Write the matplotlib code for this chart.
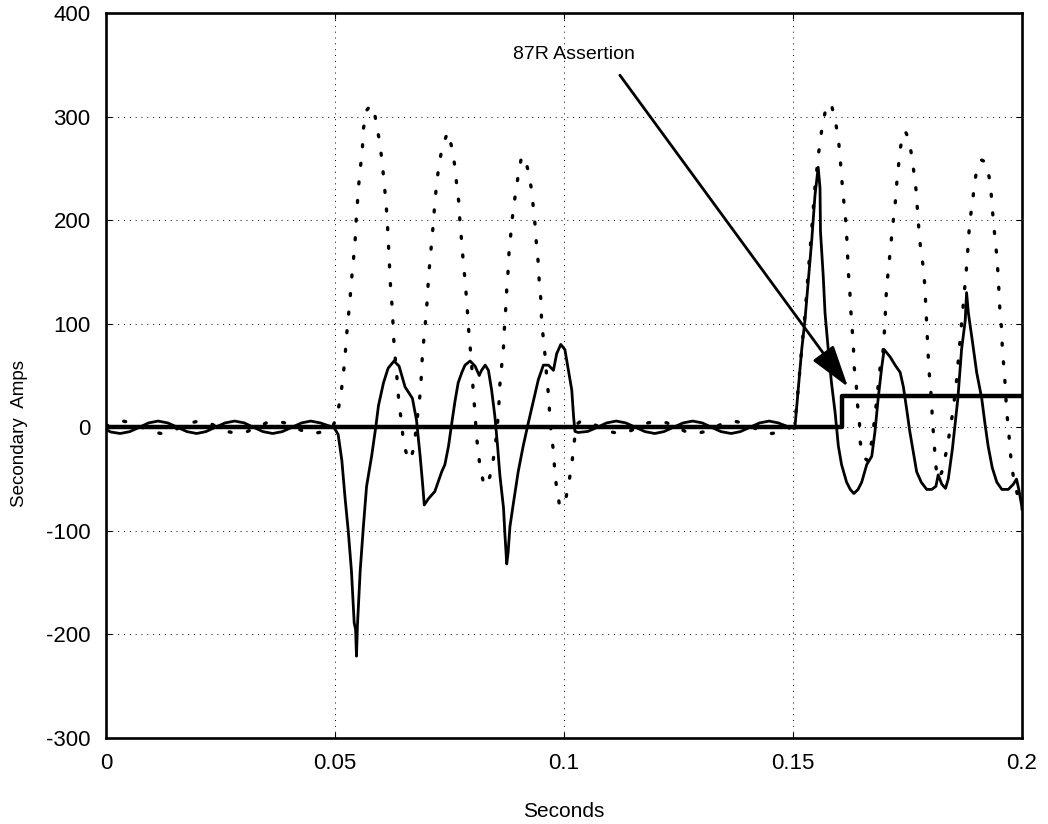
import matplotlib
matplotlib.use("Agg")
import matplotlib.pyplot as plt
import numpy as np

plt.rcParams['font.family'] = ['Liberation Sans', 'DejaVu Sans']
plt.rcParams['axes.unicode_minus'] = False

# differential current (solid), time in ms
t_diff = [0.0, 1.0, 3.1, 5.2, 7.3, 9.3, 11.4, 13.5, 15.6, 17.7, 19.8, 21.8, 23.9, 26.0,
          28.1, 30.2, 32.2, 34.3, 36.4, 38.5, 40.6, 42.7, 44.7, 46.8, 48.9, 49.9,
          50.7, 51.5, 52.2, 52.9, 53.6, 54.2, 54.5, 54.7, 54.9, 55.5, 56.2, 56.9, 58.0,
          58.9, 59.5, 60.6, 61.6, 62.9, 64.0, 65.3, 66.9, 67.8, 68.6, 69.1, 69.5, 70.4,
          71.8, 73.3, 74.0, 74.8, 75.5, 76.2, 76.9, 77.7, 78.4, 79.5, 80.6, 81.5, 82.0,
          82.8, 83.5, 84.2, 84.9, 85.5, 86.0, 86.8, 87.1, 87.5, 87.8, 88.2, 88.9, 90.0,
          91.1, 92.2, 93.3, 94.4, 95.5, 96.6, 97.7, 98.4, 99.3, 100.2, 100.9, 101.7,
          102.1, 102.4, 103.1, 105.2, 107.3, 109.3, 111.4, 113.5, 115.6, 117.7, 119.8,
          121.8, 123.9, 126.0, 128.1, 130.2, 132.2, 134.3, 136.5, 138.5, 140.6, 142.7,
          144.8, 146.8, 148.9, 150.4, 151.2, 151.9, 152.6, 153.3, 154.1, 154.8, 155.5,
          155.9, 156.0, 156.6, 157.0, 157.7, 158.4, 159.2, 159.9, 160.6, 161.7, 162.5,
          163.3, 164.2, 165.0, 166.1, 167.2, 167.9, 168.6, 169.4, 169.9, 171.2, 172.3,
          173.4, 174.1, 174.8, 175.5, 176.3, 177.0, 178.0, 179.2, 180.3, 181.2, 181.7,
          182.5, 183.3, 183.9, 184.8, 185.4, 186.0, 186.8, 187.6, 187.9, 188.3, 189.2,
          190.1, 191.2, 191.9, 192.6, 193.5, 194.5, 195.6, 197.0, 198.1, 198.8, 199.3,
          199.9, 200.0]
i_diff = [-2, -4.5, -6, -4.2, 0, 4.2, 6, 4.2, 0, -4.2, -6, -4.2, 0, 4.2,
          6, 4.2, 0, -4.2, -6, -4.2, 0, 4.2, 6, 4.2, 1, -1,
          -7, -32, -68, -100, -139, -189, -195, -221, -192, -139, -96, -57, -28,
          0, 21, 43, 57, 64, 59, 39, 28, 7, -28, -53, -75, -69,
          -62, -43, -36, -18, 4, 25, 43, 53, 60, 64, 59, 50, 55,
          60, 55, 36, 11, -18, -46, -78, -103, -132, -121, -96, -75, -43,
          -18, 4, 25, 46, 60, 60, 55, 71, 80, 75, 57, 36,
          10, -4, -5, -4, 0, 4.2, 6, 4.2, 0, -4.2, -6,
          -4.2, 0, 4.2, 6, 4.2, 0, -4.2, -6, -4.2, 0, 4.2,
          6, 4.2, 0.5, -1, 39, 75, 103, 139, 181, 224, 251,
          231, 189, 146, 110, 75, 43, 14, -18, -36, -53, -60,
          -64, -60, -53, -36, -28, -4, 28, 59, 75, 68, 60,
          53, 39, 18, -4, -25, -43, -53, -60, -60, -57, -46,
          -55, -59, -50, -21, 4, 28, 75, 103, 130, 110, 82,
          53, 28, 4, -18, -39, -53, -60, -60, -55, -50, -60,
          -75, -79]

# restraint side current (dotted), time in ms
t_res = [0.0, 1.6, 3.7, 5.8, 7.9, 10.0, 12.0, 14.1, 16.2, 18.3, 20.4, 22.5, 24.5, 26.6,
         28.7, 30.8, 32.9, 35.0, 37.0, 39.1, 41.2, 43.3, 45.4, 47.5, 49.5,
         50.6, 51.3, 51.8, 52.2, 52.5, 52.9, 53.3, 53.6, 54.0, 54.4, 54.6, 54.9, 55.2,
         55.6, 56.0, 56.2, 56.9, 57.8, 58.4, 59.1, 59.8, 60.3, 60.7, 61.1, 61.4, 61.6,
         61.8, 62.0, 62.2, 62.6, 62.7, 63.0, 63.7, 64.0, 64.6, 64.9, 65.9, 66.5, 67.3,
         68.2, 68.7, 69.1, 69.5, 69.9, 70.2, 70.4, 70.8, 71.1, 71.5, 71.8, 72.2, 72.7,
         73.4, 74.6, 75.6, 76.2, 76.6, 77.1, 77.3, 77.7, 78.0, 78.4, 78.8, 79.3, 79.7,
         80.0, 80.2, 80.6, 80.8, 81.2, 81.7, 82.6, 83.8, 84.6, 85.1, 85.5, 85.8, 86.0,
         86.4, 86.8, 87.0, 87.3, 87.5, 87.8, 88.0, 88.4, 88.8, 89.3, 89.9, 90.6, 91.4,
         92.2, 92.9, 93.3, 93.7, 94.0, 94.4, 94.6, 95.0, 95.1, 95.5, 95.9, 96.2, 96.6,
         96.9, 97.2, 97.7, 98.0, 98.4, 99.1, 100.4, 101.2, 101.8, 102.3, 102.8, 103.7,
         105.8, 107.9, 110.0, 112.0, 114.1, 116.2, 118.3, 120.4, 122.5, 124.5, 126.6,
         128.7, 130.8, 132.9, 135.0, 137.0, 139.1, 141.2, 143.3, 145.4, 147.5, 149.5,
         150.4, 151.2, 151.9, 152.6, 153.3, 154.1, 154.8, 155.6, 156.3, 157.0, 157.7,
         158.3, 159.2, 159.9, 160.3, 160.6, 161.0, 161.4, 161.7, 161.9, 162.1, 162.4,
         162.6, 162.9, 163.2, 163.3, 163.8, 164.0, 164.5, 164.6, 165.2, 166.2, 167.2,
         167.9, 168.5, 169.0, 169.7, 170.1, 170.3, 170.6, 171.0, 171.4, 171.8, 172.3,
         172.6, 173.0, 173.4, 174.1, 174.5, 175.2, 175.9, 176.4, 176.9, 177.2, 177.5,
         177.9, 178.5, 178.8, 179.0, 179.2, 179.4, 179.6, 179.9, 180.3, 180.4, 180.8,
         181.0, 181.4, 181.8, 182.6, 183.4, 184.2, 185.0, 185.7, 186.3, 186.9, 187.5,
         188.0, 188.3, 188.6, 189.2, 189.6, 190.3, 191.2, 192.1, 193.0, 193.4, 193.7,
         194.1, 194.5, 194.8, 195.0, 195.2, 195.6, 195.7, 196.1, 196.4, 196.6, 197.0,
         197.4, 197.7, 198.3, 199.0, 200.0]
i_res = [1, 4.2, 6, 4.2, 0, -4.2, -6, -4.2, 0, 4.2, 6, 4.2, 0, -4.2,
         -6, -4.2, 0, 4.2, 6, 4.2, 0, -4.2, -6, -4.2, 0,
         14, 32, 50, 68, 87, 105, 124, 142, 160, 180, 198, 217, 235,
         253, 270, 288, 306, 311, 309, 292, 274, 256, 237, 219, 201, 183,
         165, 148, 130, 111, 93, 75, 39, 21, 4, -14, -30, -32, -18,
         18, 36, 71, 89, 109, 126, 144, 164, 180, 198, 217, 235, 253,
         270, 285, 269, 251, 233, 215, 196, 178, 160, 142, 120, 87, 69,
         50, 32, 14, -4, -21, -39, -57, -48, -30, -14, 4, 23, 41,
         60, 78, 96, 116, 133, 151, 169, 187, 205, 222, 240, 258, 262,
         247, 230, 212, 195, 176, 158, 140, 121, 103, 85, 68, 50, 32,
         12, -5, -23, -43, -59, -77, -69, -50, -32, -12, 3, 6,
         4.2, 0, -4.2, -6, -4.2, 0, 4.2, 6, 4.2, 0, -4.2,
         -6, -4.2, 0, 4.2, 6, 4.2, 0, -4.2, -6, -4.2, 0,
         4, 40, 76, 108, 148, 192, 232, 265, 288, 304, 311,
         313, 297, 279, 260, 242, 222, 206, 187, 167, 149, 132,
         114, 96, 78, 60, 43, 25, 7, -12, -28, -32, -14,
         11, 36, 57, 75, 103, 125, 142, 160, 178, 196, 215,
         233, 251, 269, 283, 286, 279, 263, 246, 228, 208, 190,
         171, 153, 135, 117, 100, 80, 62, 43, 25, 7, -12,
         -28, -46, -50, -42, -25, -5, 18, 45, 75, 105, 135,
         160, 181, 199, 217, 235, 253, 258, 256, 238, 219, 201,
         183, 165, 146, 128, 110, 93, 75, 55, 36, 18, 0,
         -20, -37, -52, -65, -72]

# 87R element output
t_87r = [0.0, 160.8, 200.0]
v_87r = [0, 30, 30]

fig = plt.figure(figsize=(10.48, 8.24), dpi=100)
ax = fig.add_axes([0.1011, 0.1044, 0.8741, 0.8798])

ax.plot(np.array(t_res) / 1000, i_res, color='black', lw=2.4,
        linestyle=(0, (0.6, 5.0)), dash_capstyle='round', zorder=2)
ax.plot(np.array(t_diff) / 1000, i_diff, color='black', lw=2.0, zorder=3)
ax.plot(np.array(t_87r) / 1000, v_87r, color='black', lw=3.2,
        drawstyle='steps-post', zorder=4)

ax.set_xlim(0, 0.2)
ax.set_ylim(-300, 400)
ax.set_xticks([0, 0.05, 0.1, 0.15, 0.2])
ax.set_xticklabels(['0', '0.05', '0.1', '0.15', '0.2'])
ax.set_yticks(range(-300, 401, 100))
ax.tick_params(direction='in', length=4, width=0.8, labelsize=16,
               top=True, right=True)
ax.tick_params(axis='y', pad=11)
ax.tick_params(axis='x', pad=11)
ax.grid(True, color='black', lw=0.7, linestyle=(0, (1, 5)))
for s in ax.spines.values():
    s.set_linewidth(1.9)

ax.set_xlabel('Seconds', fontsize=15, va='center')
ax.set_ylabel('Secondary  Amps', fontsize=13.5, va='center')
ax.xaxis.set_label_coords(0.5, -0.102)
ax.yaxis.set_label_coords(-0.094, 0.42)

ax.annotate('', xy=(0.1620, 39), xytext=(0.1122, 340),
            arrowprops=dict(arrowstyle='-|>,head_length=1.3,head_width=0.4',
                            mutation_scale=20, lw=2, color='black',
                            shrinkA=0, shrinkB=0), zorder=5)
ax.text(0.1155, 356, '87R Assertion', fontsize=14, ha='right', va='baseline')

fig.savefig('out.png', dpi=100)
